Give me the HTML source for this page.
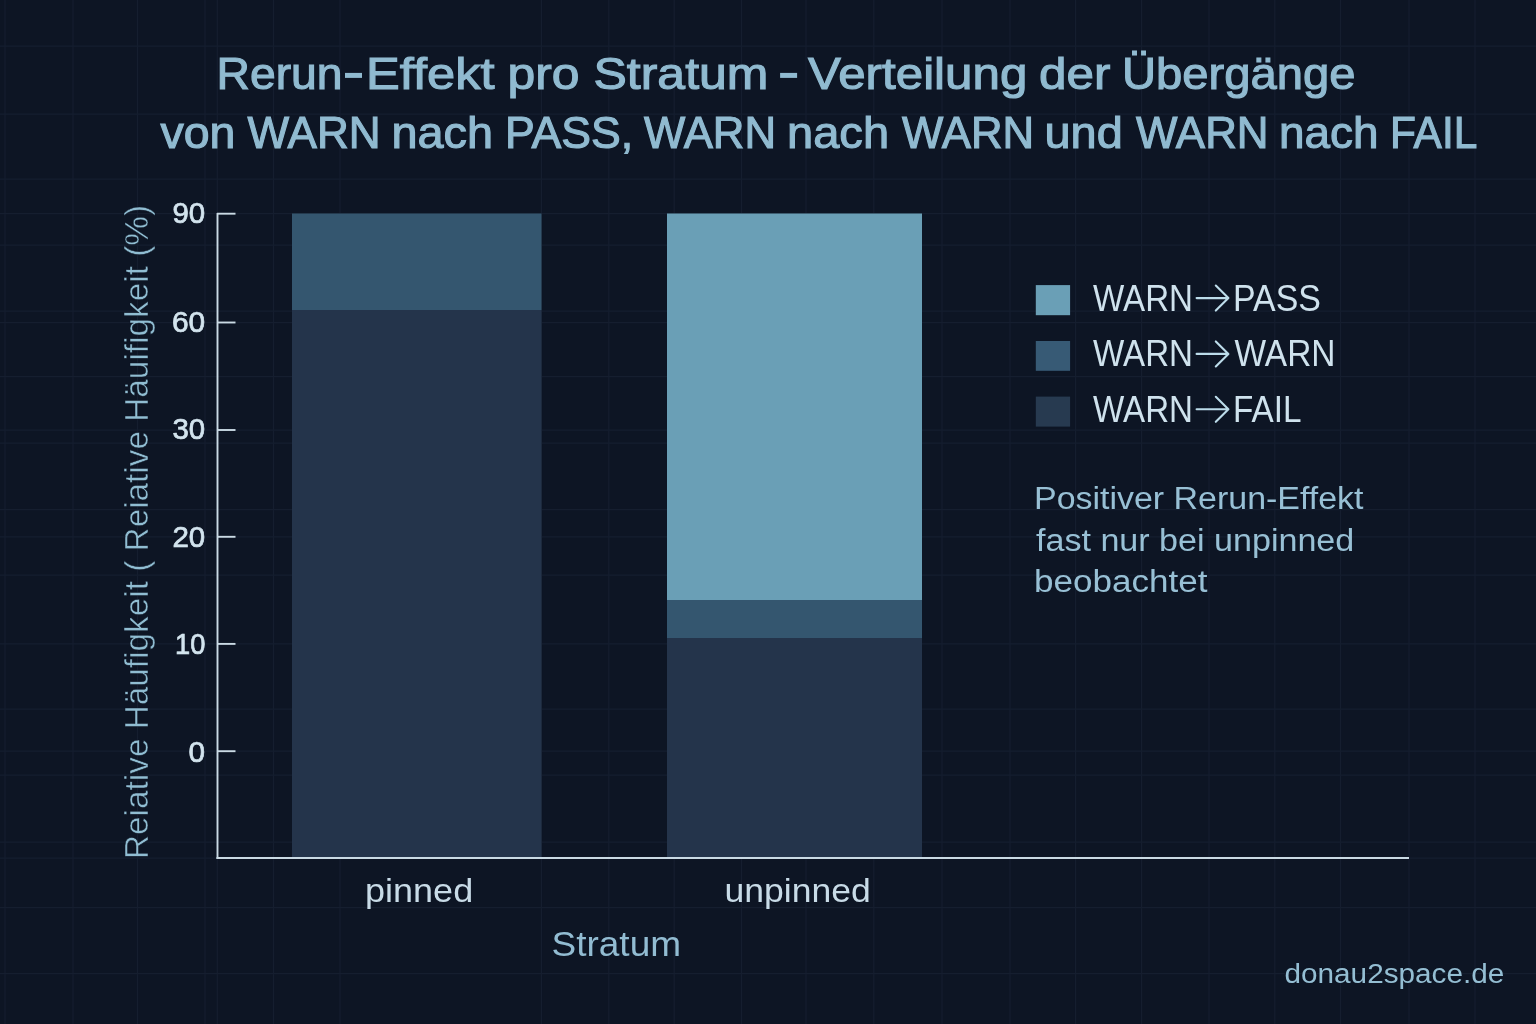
<!DOCTYPE html>
<html><head><meta charset="utf-8"><style>
html,body{margin:0;padding:0;background:#0d1524;overflow:hidden;}
svg{display:block;will-change:transform;}
text{font-family:"Liberation Sans",sans-serif;}
</style></head><body>
<svg width="1536" height="1024" viewBox="0 0 1536 1024">
<rect width="1536" height="1024" fill="#0d1524"/>
<g stroke="#151e2f" stroke-width="1.25"><line x1="5" y1="0" x2="5" y2="1024"/><line x1="73" y1="0" x2="73" y2="1024"/><line x1="137.5" y1="0" x2="137.5" y2="1024"/><line x1="205" y1="0" x2="205" y2="1024"/><line x1="217.3" y1="0" x2="217.3" y2="1024"/><line x1="273.5" y1="0" x2="273.5" y2="1024"/><line x1="340" y1="0" x2="340" y2="1024"/><line x1="541.4" y1="0" x2="541.4" y2="1024"/><line x1="608.8" y1="0" x2="608.8" y2="1024"/><line x1="674.2" y1="0" x2="674.2" y2="1024"/><line x1="741.5" y1="0" x2="741.5" y2="1024"/><line x1="806" y1="0" x2="806" y2="1024"/><line x1="873.8" y1="0" x2="873.8" y2="1024"/><line x1="942" y1="0" x2="942" y2="1024"/><line x1="1010" y1="0" x2="1010" y2="1024"/><line x1="1075.6" y1="0" x2="1075.6" y2="1024"/><line x1="1141.6" y1="0" x2="1141.6" y2="1024"/><line x1="1209" y1="0" x2="1209" y2="1024"/><line x1="1274.8" y1="0" x2="1274.8" y2="1024"/><line x1="1340.5" y1="0" x2="1340.5" y2="1024"/><line x1="1409" y1="0" x2="1409" y2="1024"/><line x1="1475" y1="0" x2="1475" y2="1024"/><line x1="0" y1="46" x2="1536" y2="46"/><line x1="0" y1="114" x2="1536" y2="114"/><line x1="0" y1="179" x2="1536" y2="179"/><line x1="0" y1="245" x2="1536" y2="245"/><line x1="0" y1="311" x2="1536" y2="311"/><line x1="0" y1="376.5" x2="1536" y2="376.5"/><line x1="0" y1="443" x2="1536" y2="443"/><line x1="0" y1="509.5" x2="1536" y2="509.5"/><line x1="0" y1="575" x2="1536" y2="575"/><line x1="0" y1="709" x2="1536" y2="709"/><line x1="0" y1="775" x2="1536" y2="775"/><line x1="0" y1="842" x2="1536" y2="842"/><line x1="0" y1="858" x2="1536" y2="858"/><line x1="0" y1="907.5" x2="1536" y2="907.5"/><line x1="0" y1="973.5" x2="1536" y2="973.5"/><line x1="0" y1="213.7" x2="1536" y2="213.7"/><line x1="0" y1="322.5" x2="1536" y2="322.5"/><line x1="0" y1="430.0" x2="1536" y2="430.0"/><line x1="0" y1="536.8" x2="1536" y2="536.8"/><line x1="0" y1="643.9" x2="1536" y2="643.9"/><line x1="0" y1="751.2" x2="1536" y2="751.2"/></g>
<text x="216.5" y="89.3" font-size="44.8" fill="#90bad0" stroke="#90bad0" stroke-width="1.1" textLength="126.07" lengthAdjust="spacingAndGlyphs">Rerun</text><text x="366.0" y="89.3" font-size="44.8" fill="#90bad0" stroke="#90bad0" stroke-width="1.1" textLength="128.52" lengthAdjust="spacingAndGlyphs">Effekt</text><text x="507.5" y="89.3" font-size="44.8" fill="#90bad0" stroke="#90bad0" stroke-width="1.1" textLength="72.03" lengthAdjust="spacingAndGlyphs">pro</text><text x="593.5" y="89.3" font-size="44.8" fill="#90bad0" stroke="#90bad0" stroke-width="1.1" textLength="174.94" lengthAdjust="spacingAndGlyphs">Stratum</text><text x="808.0" y="89.3" font-size="44.8" fill="#90bad0" stroke="#90bad0" stroke-width="1.1" textLength="219.31" lengthAdjust="spacingAndGlyphs">Verteilung</text><text x="1039.0" y="89.3" font-size="44.8" fill="#90bad0" stroke="#90bad0" stroke-width="1.1" textLength="71.41" lengthAdjust="spacingAndGlyphs">der</text><text x="1122.0" y="89.3" font-size="44.8" fill="#90bad0" stroke="#90bad0" stroke-width="1.1" textLength="233.59" lengthAdjust="spacingAndGlyphs">Übergänge</text>
<rect x="345" y="72.9" width="17" height="5" fill="#90bad0"/><rect x="780.1" y="72.9" width="17" height="5" fill="#90bad0"/>
<text x="160.5" y="148.0" font-size="44.8" fill="#90bad0" stroke="#90bad0" stroke-width="1.1" textLength="74.98" lengthAdjust="spacingAndGlyphs">von</text><text x="247.5" y="148.0" font-size="44.8" fill="#90bad0" stroke="#90bad0" stroke-width="1.1" textLength="133.12" lengthAdjust="spacingAndGlyphs">WARN</text><text x="391.5" y="148.0" font-size="44.8" fill="#90bad0" stroke="#90bad0" stroke-width="1.1" textLength="101.58" lengthAdjust="spacingAndGlyphs">nach</text><text x="505.0" y="148.0" font-size="44.8" fill="#90bad0" stroke="#90bad0" stroke-width="1.1" textLength="128.17" lengthAdjust="spacingAndGlyphs">PASS,</text><text x="644.0" y="148.0" font-size="44.8" fill="#90bad0" stroke="#90bad0" stroke-width="1.1" textLength="132.09" lengthAdjust="spacingAndGlyphs">WARN</text><text x="787.0" y="148.0" font-size="44.8" fill="#90bad0" stroke="#90bad0" stroke-width="1.1" textLength="102.1" lengthAdjust="spacingAndGlyphs">nach</text><text x="902.0" y="148.0" font-size="44.8" fill="#90bad0" stroke="#90bad0" stroke-width="1.1" textLength="132.1" lengthAdjust="spacingAndGlyphs">WARN</text><text x="1044.5" y="148.0" font-size="44.8" fill="#90bad0" stroke="#90bad0" stroke-width="1.1" textLength="78.25" lengthAdjust="spacingAndGlyphs">und</text><text x="1136.0" y="148.0" font-size="44.8" fill="#90bad0" stroke="#90bad0" stroke-width="1.1" textLength="132.6" lengthAdjust="spacingAndGlyphs">WARN</text><text x="1279.0" y="148.0" font-size="44.8" fill="#90bad0" stroke="#90bad0" stroke-width="1.1" textLength="99.54" lengthAdjust="spacingAndGlyphs">nach</text><text x="1390.0" y="148.0" font-size="44.8" fill="#90bad0" stroke="#90bad0" stroke-width="1.1" textLength="87.3" lengthAdjust="spacingAndGlyphs">FAIL</text>
<rect x="292" y="213.5" width="249.5" height="96.5" fill="#34566f"/>
<rect x="292" y="310" width="249.5" height="547" fill="#24344b"/>
<rect x="667" y="213.5" width="255" height="386.5" fill="#6a9fb6"/>
<rect x="667" y="600" width="255" height="38" fill="#34566f"/>
<rect x="667" y="638" width="255" height="219" fill="#24344b"/>
<g stroke="#cadae4" stroke-width="1.9" fill="none">
<line x1="217.5" y1="213" x2="217.5" y2="859"/>
<line x1="216.5" y1="858" x2="1409" y2="858"/>
<line x1="217" y1="213.7" x2="235.5" y2="213.7"/><line x1="217" y1="322.5" x2="235.5" y2="322.5"/><line x1="217" y1="430.0" x2="235.5" y2="430.0"/><line x1="217" y1="536.8" x2="235.5" y2="536.8"/><line x1="217" y1="643.9" x2="235.5" y2="643.9"/><line x1="217" y1="751.2" x2="235.5" y2="751.2"/>
</g>
<text x="172.5" y="222.5" font-size="29" fill="#d3e4ee" stroke="#d3e4ee" stroke-width="0.7" textLength="32.74" lengthAdjust="spacingAndGlyphs">90</text><text x="172.0" y="332.4" font-size="29" fill="#d3e4ee" stroke="#d3e4ee" stroke-width="0.7" textLength="33.22" lengthAdjust="spacingAndGlyphs">60</text><text x="172.5" y="438.5" font-size="29" fill="#d3e4ee" stroke="#d3e4ee" stroke-width="0.7" textLength="32.67" lengthAdjust="spacingAndGlyphs">30</text><text x="172.5" y="547.2" font-size="29" fill="#d3e4ee" stroke="#d3e4ee" stroke-width="0.7" textLength="32.74" lengthAdjust="spacingAndGlyphs">20</text><text x="175.0" y="654.2" font-size="29" fill="#d3e4ee" stroke="#d3e4ee" stroke-width="0.7" textLength="30.3" lengthAdjust="spacingAndGlyphs">10</text><text x="188.5" y="761.6" font-size="29" fill="#d3e4ee" stroke="#d3e4ee" stroke-width="0.7" textLength="16.52" lengthAdjust="spacingAndGlyphs">0</text>
<text transform="translate(148,859) rotate(-90)" fill="#90bdd2" stroke="#0d1524" stroke-width="0.5" font-size="33" textLength="654" lengthAdjust="spacingAndGlyphs">Reiative Häufigkeit ( Reiative Häuifigkeit (%)</text>
<text x="365.0" y="902" font-size="33.5" fill="#c8dbe7" textLength="108.21" lengthAdjust="spacingAndGlyphs">pinned</text><text x="724.5" y="902.2" font-size="33.5" fill="#c8dbe7" textLength="146.38" lengthAdjust="spacingAndGlyphs">unpinned</text>
<text x="551.5" y="956.1" font-size="35.6" fill="#92bcd2" textLength="129.56" lengthAdjust="spacingAndGlyphs">Stratum</text>
<rect x="1035.8" y="285.1" width="34.3" height="30.1" fill="#6a9fb6"/>
<rect x="1035.8" y="341" width="34.3" height="29.8" fill="#375a75"/>
<rect x="1035.8" y="396.6" width="34.3" height="30" fill="#273a50"/>
<text x="1093.0" y="310.7" font-size="36.5" fill="#cfe2ed" textLength="99.98" lengthAdjust="spacingAndGlyphs">WARN</text><text x="1233.0" y="310.7" font-size="36.5" fill="#cfe2ed" textLength="87.85" lengthAdjust="spacingAndGlyphs">PASS</text><text x="1093.0" y="366.4" font-size="36.5" fill="#cfe2ed" textLength="99.98" lengthAdjust="spacingAndGlyphs">WARN</text><text x="1234.5" y="366.4" font-size="36.5" fill="#cfe2ed" textLength="100.99" lengthAdjust="spacingAndGlyphs">WARN</text><text x="1093.0" y="421.9" font-size="36.5" fill="#cfe2ed" textLength="99.98" lengthAdjust="spacingAndGlyphs">WARN</text><text x="1233.0" y="421.9" font-size="36.5" fill="#cfe2ed" textLength="68.5" lengthAdjust="spacingAndGlyphs">FAIL</text>
<g stroke="#bcdcea" stroke-width="2.1" fill="none" stroke-linecap="round" stroke-linejoin="round"><path d="M1196.6 298.1H1228 M1215.8 285.6L1228.4 298.1L1215.8 310.6" /><path d="M1196.6 353.9H1228 M1215.8 341.4L1228.4 353.9L1215.8 366.4" /><path d="M1196.6 409.3H1228 M1215.8 396.8L1228.4 409.3L1215.8 421.8" /></g>
<text x="1034.0" y="509.4" font-size="31" fill="#98c0d5" textLength="329.5" lengthAdjust="spacingAndGlyphs">Positiver Rerun-Effekt</text><text x="1036.0" y="550.9" font-size="31" fill="#98c0d5" textLength="318.28" lengthAdjust="spacingAndGlyphs">fast nur bei unpinned</text><text x="1034.0" y="592.3" font-size="31" fill="#98c0d5" textLength="173.41" lengthAdjust="spacingAndGlyphs">beobachtet</text>
<text x="1284.5" y="982.6" font-size="28.4" fill="#94bed3" textLength="219.83" lengthAdjust="spacingAndGlyphs">donau2space.de</text>
</svg>
</body></html>
